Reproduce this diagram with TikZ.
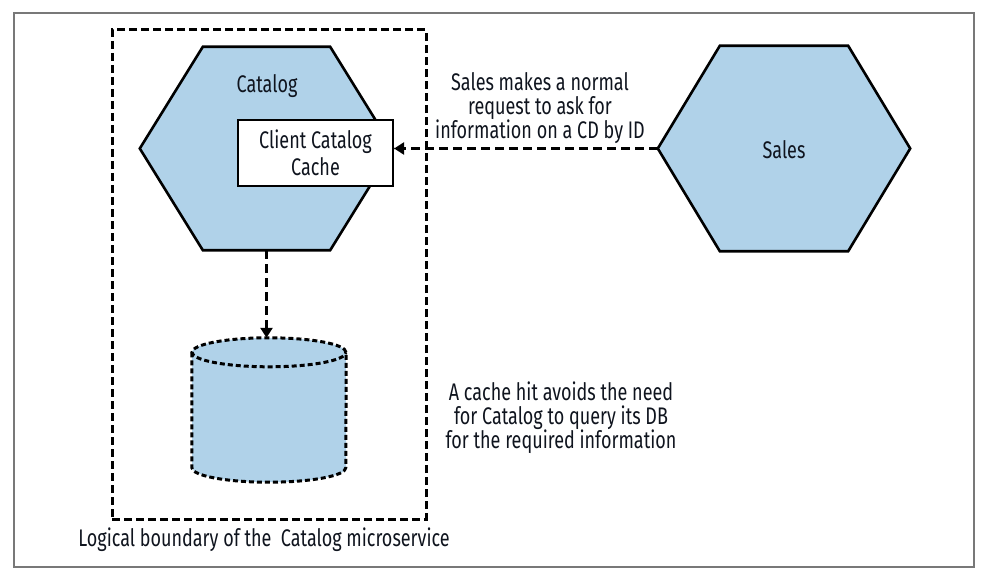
\documentclass[tikz,border=0pt]{standalone}
\usepackage{fontspec}
\setmainfont{Fira Sans}[FakeStretch=0.75]
\usetikzlibrary{arrows.meta,calc}
\definecolor{hexblue}{RGB}{176,210,233}
\definecolor{framegray}{RGB}{120,120,120}
\definecolor{inkblack}{RGB}{15,20,30}
\begin{document}
\begin{tikzpicture}[x=1pt,y=-1pt,
  txt/.style={font=\fontsize{24}{24}\selectfont, align=center, inner sep=0pt, text=inkblack},
  hexbox/.style={minimum width=253pt, minimum height=203pt, inner sep=0pt, draw=none},
  hexline/.style={fill=hexblue, draw=black, line width=2.6pt, line join=miter},
  cachebox/.style={draw=black, fill=white, line width=2.2pt, minimum width=155pt, minimum height=66pt, inner sep=0pt},
  darrow/.style={draw=black, line width=2.8pt, dash pattern=on 9pt off 5pt, -{Triangle[length=10pt,width=12pt]}},
  boundary/.style={draw=black, line width=3pt, dash pattern=on 8pt off 4pt, minimum width=314pt, minimum height=489pt, inner sep=0pt},
  cylfill/.style={fill=hexblue},
  cylline/.style={draw=black, line width=3pt, dash pattern=on 5pt off 3pt},
  framebox/.style={draw=framegray, line width=1.4pt, minimum width=960pt, minimum height=554pt, inner sep=0pt}
]
\useasboundingbox (0,0) rectangle (988,578);
\node[framebox] (frame) at (494,290) {};

% boundary
\node[boundary] (bnd) at (269,274.5) {};
\node[txt, anchor=center] (bndlbl) at (264,540) {Logical boundary of the \ Catalog microservice};

% Catalog hexagon
\node[hexbox] (cat) at (266.5,148.5) {};
\path[hexline] (cat.west) -- ($(cat.north west)+(63,0)$) -- ($(cat.north east)+(-63,0)$) -- (cat.east) -- ($(cat.south east)+(-63,0)$) -- ($(cat.south west)+(63,0)$) -- cycle;
\node[txt] (cattxt) at (267,86) {Catalog};
\node[cachebox] (cache) at (315.5,153) {};
\node[txt, font=\fontsize{24}{27}\selectfont] (cachetxt) at (cache.center) {Client Catalog\\Cache};

% Sales hexagon
\node[hexbox, minimum width=252pt, minimum height=205pt] (sales) at (784,148.5) {};
\path[hexline] (sales.west) -- ($(sales.north west)+(62,0)$) -- ($(sales.north east)+(-62,0)$) -- (sales.east) -- ($(sales.south east)+(-62,0)$) -- ($(sales.south west)+(62,0)$) -- cycle;
\node[txt] (salestxt) at (784,150) {Sales};

% database cylinder
\node[minimum width=154pt, minimum height=144pt, inner sep=0pt, draw=none] (db) at (269,410) {};
\path[cylfill] ($(db.north west)+(0,14.5)$) arc[start angle=180, end angle=0, x radius=77pt, y radius=14.5pt]
  -- ($(db.south east)+(0,-14.5)$) arc[start angle=0, end angle=-180, x radius=77pt, y radius=14.5pt] -- cycle;
\draw[cylline] ($(db.north)+(0,14.5)$) ellipse[x radius=77pt, y radius=14.5pt];
\draw[cylline] ($(db.north west)+(0,14.5)$) -- ($(db.south west)+(0,-14.5)$)
  arc[start angle=180, end angle=360, x radius=77pt, y radius=14.5pt] -- ($(db.north east)+(0,14.5)$);

% connectors
\draw[darrow] (sales.west) -- (sales.west -| cache.east);
\draw[darrow] (cat.south) -- (cat.south |- db.north);

% annotations
\node[txt] (reqtxt) at (540,108) {Sales makes a normal\\request to ask for\\information on a CD by ID};
\node[txt] (hittxt) at (561,418) {A cache hit avoids the need\\for Catalog to query its DB\\for the required information};
\end{tikzpicture}
\end{document}
